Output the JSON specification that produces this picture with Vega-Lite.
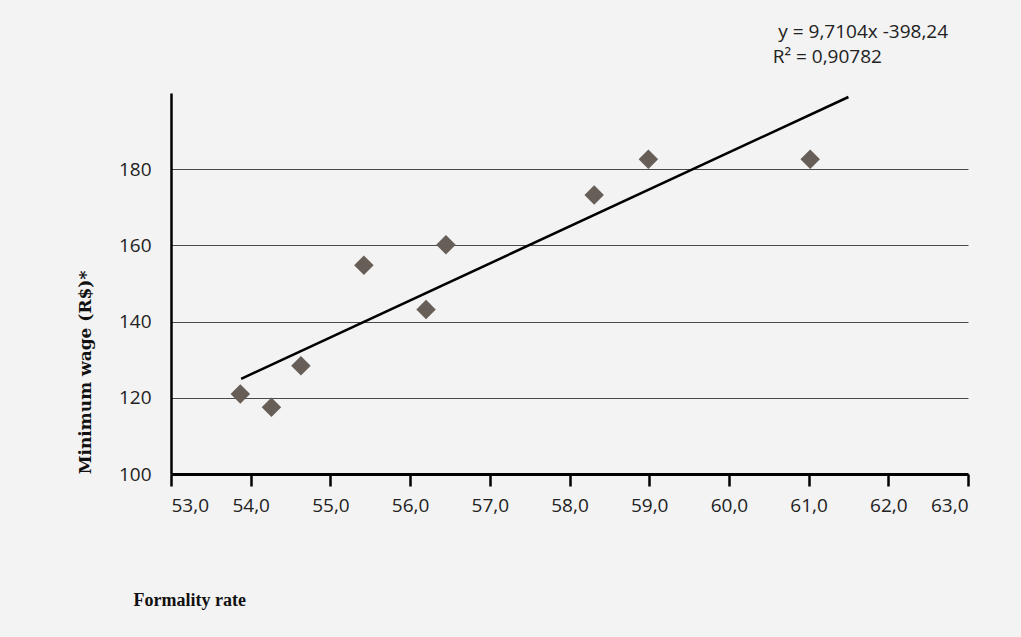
{
  "$schema": "https://vega.github.io/schema/vega-lite/v6.json",
  "width": 797,
  "height": 381,
  "autosize": {"type": "none"},
  "padding": {"left": 171, "top": 93, "right": 53, "bottom": 163},
  "background": "#f3f3f3",
  "config": {"view": {"stroke": null}},
  "datasets": {
    "points": [
      {"rate": 53.87, "wage": 121.0},
      {"rate": 54.26, "wage": 117.5},
      {"rate": 54.63, "wage": 128.4},
      {"rate": 55.42, "wage": 154.8},
      {"rate": 56.2, "wage": 143.2},
      {"rate": 56.45, "wage": 160.2},
      {"rate": 58.31, "wage": 173.2},
      {"rate": 58.99, "wage": 182.6},
      {"rate": 61.02, "wage": 182.6}
    ],
    "trend": [
      {"rate": 53.88, "wage": 124.98},
      {"rate": 61.5, "wage": 198.95}
    ],
    "eq": [
      {"rate": 60.62, "wage": 214.4, "label": "y = 9,7104x -398,24"},
      {"rate": 60.55, "wage": 207.8, "label": "R² = 0,90782"}
    ]
  },
  "layer": [
    {
      "data": {"name": "points"},
      "mark": {"type": "point", "shape": "diamond", "filled": true, "size": 380, "color": "#675e58", "opacity": 1},
      "encoding": {
        "x": {
          "field": "rate", "type": "quantitative",
          "scale": {"domain": [53, 63], "nice": false, "zero": false},
          "axis": {
            "values": [53, 54, 55, 56, 57, 58, 59, 60, 61, 62, 63],
            "labelExpr": "replace(format(datum.value, '.1f'), '.', ',')",
            "grid": false,
            "domainColor": "#000000", "domainWidth": 3,
            "tickColor": "#000000", "tickWidth": 2.5, "tickSize": 12,
            "labelFont": "Open Sans", "labelFontSize": 19, "labelColor": "#222222",
            "labelPadding": 10,
            "title": "Formality rate",
            "titleFont": "Liberation Serif", "titleFontSize": 18, "titleFontWeight": "bold",
            "titleColor": "#111111",
            "titleAnchor": "start", "titleAlign": "left", "titleBaseline": "middle",
            "titleX": -38, "titleY": 126
          }
        },
        "y": {
          "field": "wage", "type": "quantitative",
          "scale": {"domain": [100, 200], "nice": false, "zero": false},
          "axis": {
            "values": [100, 120, 140, 160, 180],
            "grid": true, "gridColor": "#4a4a4a", "gridWidth": 1.2,
            "ticks": false,
            "domainColor": "#000000", "domainWidth": 2.5,
            "labelFont": "Open Sans", "labelFontSize": 19, "labelColor": "#222222",
            "labelPadding": 20,
            "title": "Minimum wage  (R$)*",
            "titleFont": "DejaVu Serif", "titleFontSize": 17, "titleFontWeight": "bold",
            "titleColor": "#111111",
            "titleAngle": -90, "titleAlign": "center", "titleBaseline": "middle",
            "titleX": -86, "titleY": 279
          }
        }
      }
    },
    {
      "data": {"name": "trend"},
      "mark": {"type": "line", "color": "#000000", "strokeWidth": 2.5},
      "encoding": {
        "x": {"field": "rate", "type": "quantitative"},
        "y": {"field": "wage", "type": "quantitative"}
      }
    },
    {
      "data": {"name": "eq"},
      "mark": {"type": "text", "align": "left", "baseline": "alphabetic", "font": "Open Sans", "fontSize": 19, "color": "#222222", "clip": false},
      "encoding": {
        "x": {"field": "rate", "type": "quantitative"},
        "y": {"field": "wage", "type": "quantitative"},
        "text": {"field": "label"}
      }
    }
  ]
}
